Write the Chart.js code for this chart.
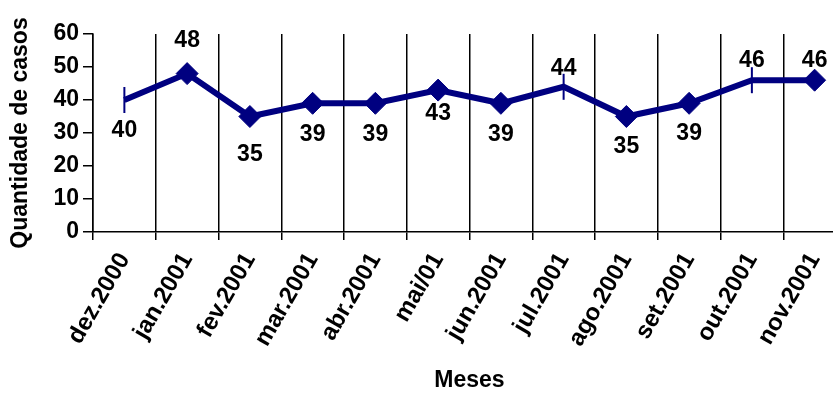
<!DOCTYPE html>
<html>
<head>
<meta charset="utf-8">
<script src="https://cdn.jsdelivr.net/npm/chart.js@4"></script>
<style>
  html, body { margin: 0; padding: 0; background: #fff; overflow: hidden; }
</style>
</head>
<body>
<canvas id="chart" width="846" height="394"></canvas>
<script>
// dados
const meses = ["dez.2000", "jan.2001", "fev.2001", "mar.2001", "abr.2001", "mai/01",
  "jun.2001", "jul.2001", "ago.2001", "set.2001", "out.2001", "nov.2001"];
const casos = [40, 48, 35, 39, 39, 43, 39, 44, 35, 39, 46, 46];
const yTicks = [0, 10, 20, 30, 40, 50, 60];

const NAVY = "#000080";
const FONT = "'Liberation Sans', Arial, sans-serif";

// marcadores (alguns pontos usam traço vertical)
const marcador = ["line", "rectRot", "rectRot", "rectRot", "rectRot", "rectRot",
  "rectRot", "line", "rectRot", "rectRot", "line", "rectRot"];
// deslocamento vertical dos rótulos (px)
const rotuloDy = [31, -33, 38, 31, 31, 24, 31, -18, 30, 30, -20, -20];

const rotulos = {
  id: "rotulos",
  afterDatasetsDraw(chart) {
    const ctx = chart.ctx;
    const meta = chart.getDatasetMeta(0);
    ctx.save();
    ctx.font = "bold 23px " + FONT;
    ctx.fillStyle = "#000";
    ctx.textAlign = "center";
    ctx.textBaseline = "middle";
    meta.data.forEach((pt, i) => {
      ctx.fillText(String(casos[i]), pt.x, pt.y + rotuloDy[i]);
    });
    ctx.restore();
  },
};

new Chart(document.getElementById("chart").getContext("2d"), {
  type: "line",
  data: {
    labels: meses,
    datasets: [{
      data: casos,
      borderColor: NAVY,
      backgroundColor: NAVY,
      borderWidth: 6,
      tension: 0,
      fill: false,
      pointStyle: marcador,
      pointRotation: marcador.map((m) => (m === "line" ? 90 : 0)),
      pointRadius: marcador.map((m) => (m === "line" ? 13 : 11)),
      pointBorderWidth: marcador.map((m) => (m === "line" ? 2 : 1)),
      pointBackgroundColor: NAVY,
      pointBorderColor: NAVY,
    }],
  },
  options: {
    responsive: false,
    animation: false,
    layout: { autoPadding: false, padding: { top: 34, left: 0, right: 0, bottom: 0 } },
    plugins: { legend: { display: false }, tooltip: { enabled: false } },
    scales: {
      x: {
        offset: true,
        grid: { offset: true, color: "#000", lineWidth: 1.5, tickLength: 8 },
        border: { color: "#000", width: 1.5 },
        ticks: {
          color: "#000",
          font: { family: FONT, size: 24, weight: "bold" },
          minRotation: 60, maxRotation: 60, padding: 8, autoSkip: false,
        },
        title: {
          display: true, text: "Meses", color: "#000",
          font: { family: FONT, size: 23, weight: "bold" },
          padding: { top: 0, bottom: 0 },
        },
        afterFit(s) {
          s.height = 162;
          s.paddingLeft = 0;
          s.paddingRight = 0;
        },
      },
      y: {
        min: 0, max: 60,
        afterBuildTicks(s) { s.ticks = yTicks.map((v) => ({ value: v })); },
        grid: { drawOnChartArea: false, color: "#000", lineWidth: 1.5, tickLength: 10 },
        border: { color: "#000", width: 1.5 },
        ticks: {
          color: "#000", padding: 4,
          font: { family: FONT, size: 23, weight: "bold" },
        },
        title: {
          display: true, text: "Quantidade de casos", color: "#000",
          font: { family: FONT, size: 23, weight: "bold" },
          padding: { top: 7, bottom: 0 },
        },
        afterFit(s) { s.width = 93; },
      },
    },
  },
  plugins: [rotulos],
});
</script>
</body>
</html>
